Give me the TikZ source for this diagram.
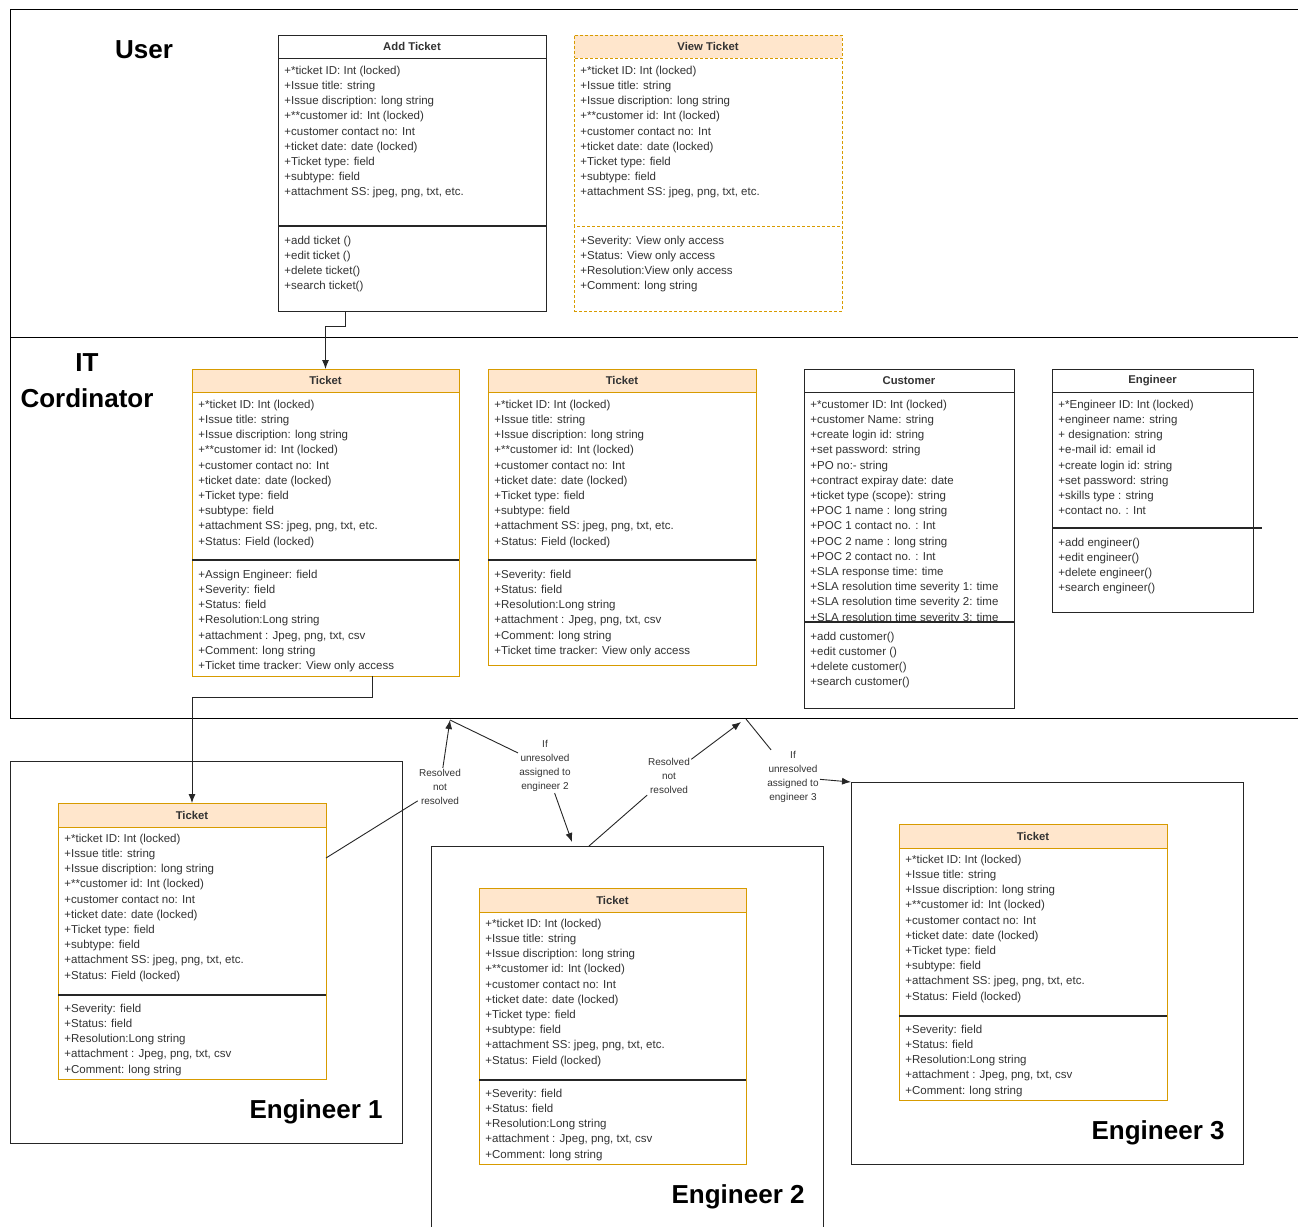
\documentclass[tikz,border=0pt]{standalone}
\usepackage{fontspec}
\setmainfont{Liberation Sans}
\usetikzlibrary{shapes,arrows,arrows.meta,positioning}

\definecolor{orline}{HTML}{D79B00}
\definecolor{orfill}{HTML}{FFE6CC}
\definecolor{txtgray}{HTML}{333333}

% field lists used by every ticket
\newcommand{\tkfields}{+*ticket ID: Int (locked)\\+Issue title: string\\+Issue discription: long string\\+**customer id: Int (locked)\\+customer contact no: Int\\+ticket date: date (locked)\\+Ticket type: field\\+subtype: field\\+attachment SS: jpeg, png, txt, etc.}
\newcommand{\engops}{+Severity: field\\+Status: field\\+Resolution:Long string\\+attachment : Jpeg, png, txt, csv\\+Comment: long string}

\begin{document}
\begin{tikzpicture}[x=1pt,y=-1pt,line width=0.9pt,
  hdbox/.style={draw=black!85, minimum height=23pt, inner sep=0pt, outer sep=0pt,
    font=\fontsize{11.3}{13}\selectfont\bfseries, text=txtgray},
  secbox/.style={draw=black!85, fill=white, inner sep=0pt, outer sep=0pt},
  orange/.style={draw=orline},
  orhead/.style={draw=orline, fill=orfill},
  dashy/.style={dash pattern=on 3pt off 2pt},
  fields/.style={anchor=north west, align=left, inner sep=0pt, text=txtgray,
    font=\fontsize{11.5}{15.2}\selectfont, execute at begin node=\strut},
  divline/.style={draw=black!85, line width=1.3pt},
  frame/.style={draw=black!85, inner sep=0pt, outer sep=0pt},
  lane/.style={draw=black, line width=1pt},
  lanelbl/.style={inner sep=0pt, align=center, font=\fontsize{26}{36}\selectfont\bfseries},
  lbl/.style={inner sep=1pt, align=center, text=txtgray, font=\fontsize{10}{14}\selectfont},
  conn/.style={draw=black!85, -{Latex[length=9pt,width=7pt]}}]
\useasboundingbox[fill=white] (0,0) rectangle (1298,1226);

% Swim lanes
\draw[lane] (1298,9) -- (10,9) -- (10,718) -- (1298,718);
\draw[lane] (10,337) -- (1298,337);
\node[lanelbl] (userlbl) at (144,50) {User};
\node[lanelbl] (itlbl) at (87,381) {IT\\Cordinator};

% Add Ticket
\node[hdbox, minimum width=268pt, anchor=north west] (addhd) at (278,35) {Add Ticket};
\node[secbox, minimum width=268pt, minimum height=168pt, below=0pt of addhd] (addat) {};
\node[fields] (addattx) at ([xshift=6pt,yshift=-7.5pt]addat.north west) {\tkfields};
\node[secbox, minimum width=268pt, minimum height=85pt, below=0pt of addat] (addop) {};
\node[fields] (addoptx) at ([xshift=6pt,yshift=-9.5pt]addop.north west) {+add ticket ()\\+edit ticket ()\\+delete ticket()\\+search ticket()};
\draw[divline] (addop.north west) -- (addop.north east);

% View Ticket
\node[hdbox, orhead, dashy, minimum width=268pt, anchor=north west] (viewhd) at (574,35) {View Ticket};
\node[secbox, orange, dashy, minimum width=268pt, minimum height=168pt, below=0pt of viewhd] (viewat) {};
\node[fields] (viewattx) at ([xshift=6pt,yshift=-7.5pt]viewat.north west) {\tkfields};
\node[secbox, orange, dashy, minimum width=268pt, minimum height=85pt, below=0pt of viewat] (viewop) {};
\node[fields] (viewoptx) at ([xshift=6pt,yshift=-9.5pt]viewop.north west) {+Severity: View only access\\+Status: View only access\\+Resolution:View only access\\+Comment: long string};

% IT ticket 1
\node[hdbox, orhead, minimum width=267pt, anchor=north west] (it1hd) at (192,369) {Ticket};
\node[secbox, orange, minimum width=267pt, minimum height=168pt, below=0pt of it1hd] (it1at) {};
\node[fields] (it1attx) at ([xshift=6pt,yshift=-7.5pt]it1at.north west) {\tkfields\\+Status: Field (locked)};
\node[secbox, orange, minimum width=267pt, minimum height=116pt, below=0pt of it1at] (it1op) {};
\node[fields] (it1optx) at ([xshift=6pt,yshift=-9.5pt]it1op.north west) {+Assign Engineer: field\\+Severity: field\\+Status: field\\+Resolution:Long string\\+attachment : Jpeg, png, txt, csv\\+Comment: long string\\+Ticket time tracker: View only access};
\draw[divline] (it1op.north west) -- (it1op.north east);

% IT ticket 2
\node[hdbox, orhead, minimum width=268pt, anchor=north west] (it2hd) at (488,369) {Ticket};
\node[secbox, orange, minimum width=268pt, minimum height=168pt, below=0pt of it2hd] (it2at) {};
\node[fields] (it2attx) at ([xshift=6pt,yshift=-7.5pt]it2at.north west) {\tkfields\\+Status: Field (locked)};
\node[secbox, orange, minimum width=268pt, minimum height=105pt, below=0pt of it2at] (it2op) {};
\node[fields] (it2optx) at ([xshift=6pt,yshift=-9.5pt]it2op.north west) {+Severity: field\\+Status: field\\+Resolution:Long string\\+attachment : Jpeg, png, txt, csv\\+Comment: long string\\+Ticket time tracker: View only access};
\draw[divline] (it2op.north west) -- (it2op.north east);

% Customer
\node[hdbox, minimum width=210pt, anchor=north west] (cushd) at (804,369) {Customer};
\node[secbox, minimum width=210pt, minimum height=230pt, below=0pt of cushd] (cusat) {};
\node[fields] (cusattx) at ([xshift=6pt,yshift=-7.5pt]cusat.north west) {+*customer ID: Int (locked)\\+customer Name: string\\+create login id: string\\+set password: string\\+PO no:- string\\+contract expiray date: date\\+ticket type (scope): string\\+POC 1 name : long string\\+POC 1 contact no. : Int\\+POC 2 name : long string\\+POC 2 contact no. : Int\\+SLA response time: time\\+SLA resolution time severity 1: time\\+SLA resolution time severity 2: time\\+SLA resolution time severity 3: time};
\node[secbox, minimum width=210pt, minimum height=86pt, below=0pt of cusat] (cusop) {};
\node[fields] (cusoptx) at ([xshift=6pt,yshift=-9.5pt]cusop.north west) {+add customer()\\+edit customer ()\\+delete customer()\\+search customer()};
\draw[divline] (cusop.north west) -- (cusop.north east);

% Engineer
\node[hdbox, minimum width=201pt, anchor=north west] (enghd) at (1052,369) {Engineer};
\node[secbox, minimum width=201pt, minimum height=136pt, below=0pt of enghd] (engat) {};
\node[fields] (engattx) at ([xshift=6pt,yshift=-7.5pt]engat.north west) {+*Engineer ID: Int (locked)\\+engineer name: string\\+ designation: string\\+e-mail id: email id\\+create login id: string\\+set password: string\\+skills type : string\\+contact no. : Int};
\node[secbox, minimum width=201pt, minimum height=84pt, below=0pt of engat] (engop) {};
\node[fields] (engoptx) at ([xshift=6pt,yshift=-9.5pt]engop.north west) {+add engineer()\\+edit engineer()\\+delete engineer()\\+search engineer()};
\draw[divline] (engop.north west) -- ([xshift=9pt]engop.north east);

% Engineer frames
\node[frame, minimum width=392pt, minimum height=382pt, anchor=north west] (eng1fr) at (10,761) {};
\node[frame, minimum width=392pt, minimum height=400pt, anchor=north west] (eng2fr) at (431,846) {};
\node[frame, minimum width=392pt, minimum height=382pt, anchor=north west] (eng3fr) at (851,782) {};
\node[lanelbl, anchor=east] (e1lbl) at (383,1112) {Engineer 1};
\node[lanelbl, anchor=east] (e2lbl) at (805,1197) {Engineer 2};
\node[lanelbl, anchor=east] (e3lbl) at (1225,1133) {Engineer 3};

% Engineer 1 ticket
\node[hdbox, orhead, minimum width=268pt, minimum height=24pt, anchor=north west] (e1hd) at (58,803) {Ticket};
\node[secbox, orange, minimum width=268pt, minimum height=168pt, below=0pt of e1hd] (e1at) {};
\node[fields] (e1attx) at ([xshift=6pt,yshift=-6.5pt]e1at.north west) {\tkfields\\+Status: Field (locked)};
\node[secbox, orange, minimum width=268pt, minimum height=84pt, below=0pt of e1at] (e1op) {};
\node[fields] (e1optx) at ([xshift=6pt,yshift=-8.5pt]e1op.north west) {\engops};
\draw[divline] (e1op.north west) -- (e1op.north east);

% Engineer 2 ticket
\node[hdbox, orhead, minimum width=267pt, minimum height=24pt, anchor=north west] (e2hd) at (479,888) {Ticket};
\node[secbox, orange, minimum width=267pt, minimum height=168pt, below=0pt of e2hd] (e2at) {};
\node[fields] (e2attx) at ([xshift=6pt,yshift=-6.5pt]e2at.north west) {\tkfields\\+Status: Field (locked)};
\node[secbox, orange, minimum width=267pt, minimum height=84pt, below=0pt of e2at] (e2op) {};
\node[fields] (e2optx) at ([xshift=6pt,yshift=-8.5pt]e2op.north west) {\engops};
\draw[divline] (e2op.north west) -- (e2op.north east);

% Engineer 3 ticket
\node[hdbox, orhead, minimum width=268pt, minimum height=24pt, anchor=north west] (e3hd) at (899,824) {Ticket};
\node[secbox, orange, minimum width=268pt, minimum height=168pt, below=0pt of e3hd] (e3at) {};
\node[fields] (e3attx) at ([xshift=6pt,yshift=-6.5pt]e3at.north west) {\tkfields\\+Status: Field (locked)};
\node[secbox, orange, minimum width=268pt, minimum height=84pt, below=0pt of e3at] (e3op) {};
\node[fields] (e3optx) at ([xshift=6pt,yshift=-8.5pt]e3op.north west) {\engops};
\draw[divline] (e3op.north west) -- (e3op.north east);

% Flow labels
\node[lbl] (rnr1) at (440,787) {Resolved\\not\\resolved};
\node[lbl] (ifu2) at (545,766) {If\\unresolved\\assigned to\\engineer 2};
\node[lbl] (rnr2) at (669,776) {Resolved\\not\\resolved};
\node[lbl] (ifu3) at (793,777) {If\\unresolved\\assigned to\\engineer 3};
\coordinate (ret1) at (450,720);
\coordinate (in2) at (572,842);
\coordinate (ret2) at (741,722);
\coordinate (out3) at (746,719);

% Connectors
\draw[conn] ([xshift=-67pt]addop.south) -- ++(0,15) -| (it1hd.north);
\draw[conn] ([xshift=46.5pt]it1op.south) -- ++(0,21) -| (e1hd.north);
\draw[conn] ([yshift=-31pt]e1at.north east) -- (rnr1) -- (ret1);
\draw[conn] (ret1) -- (ifu2) -- (in2);
\draw[conn] ([xshift=-38pt]eng2fr.north) -- (rnr2) -- (ret2);
\draw[conn] (out3) -- (ifu3) -- (eng3fr.north west);
\end{tikzpicture}
\end{document}
